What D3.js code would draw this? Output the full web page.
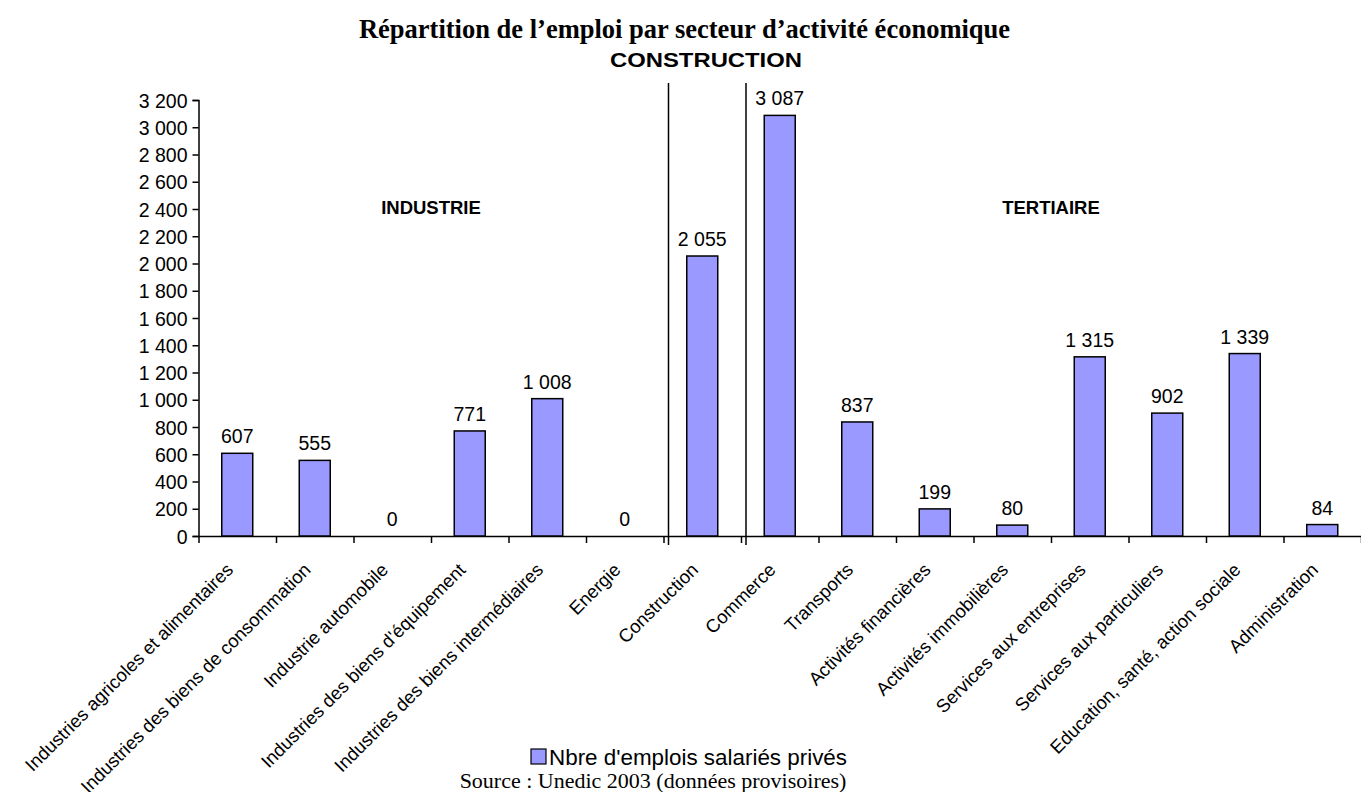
<!DOCTYPE html>
<html>
<head>
<meta charset="utf-8">
<script src="https://cdn.jsdelivr.net/npm/d3@7"></script>
<style>
	body { margin: 0; background: #fff; }
	svg { display: block; }
	text { font-family: "Liberation Sans", Arial, sans-serif; fill: #000; }
	.serif { font-family: "Liberation Serif", "Times New Roman", serif; }
</style>
</head>
<body>
<svg id="chart"></svg>
<script>

// categories and values
var categories = [
	"Industries agricoles et alimentaires",
	"Industries des biens de consommation",
	"Industrie automobile",
	"Industries des biens d'équipement",
	"Industries des biens intermédiaires",
	"Energie",
	"Construction",
	"Commerce",
	"Transports",
	"Activités financières",
	"Activités immobilières",
	"Services aux entreprises",
	"Services aux particuliers",
	"Education, santé, action sociale",
	"Administration"
];
var values = [607, 555, 0, 771, 1008, 0, 2055, 3087, 837, 199, 80, 1315, 902, 1339, 84];
var yTicks = [0, 200, 400, 600, 800, 1000, 1200, 1400, 1600, 1800, 2000, 2200, 2400, 2600, 2800, 3000, 3200];

// sector groups: label, first and last category
var sectorNames = ["INDUSTRIE", "TERTIAIRE"];
var sectorFirst = ["Industries agricoles et alimentaires", "Commerce"];
var sectorLast = ["Energie", "Administration"];
var separators = ["Construction", "Commerce"];

var seriesName = "Nbre d'emplois salariés privés";
var title = "Répartition de l’emploi par secteur d’activité économique";
var subtitle = "CONSTRUCTION";
var source = "Source : Unedic 2003 (données provisoires)";

var width = 1361,
	height = 792;

var svg = d3.select("#chart")
	.attr("width", width)
	.attr("height", height);

var x = d3.scaleBand()
	.domain(categories)
	.range([198.5, 1361]);

var edges = d3.scaleLinear()
	.domain([0, categories.length])
	.range(x.range());

var y = d3.scaleLinear()
	.domain([0, 3200])
	.range([536, 100]);

var fr = d3.formatLocale({ decimal: ",", thousands: " ", grouping: [3], currency: ["", " €"] });
var fmt = fr.format(",d");

// y axis
var yAxis = svg.append("g")
	.attr("transform", "translate(198.5,0)")
	.call(d3.axisLeft(y).tickValues(yTicks).tickSize(6).tickPadding(5).tickFormat(fmt));
yAxis.selectAll("text").style("font-size", "19.5px").attr("dy", "0.36em");
yAxis.selectAll("line, path").attr("stroke", "#000").attr("stroke-width", 1.5);

// x axis, ticks on the band edges
var xAxis = svg.append("g")
	.attr("transform", "translate(0," + y(0) + ")")
	.call(d3.axisBottom(edges).tickValues(d3.range(0, categories.length + 1)).tickSizeInner(7).tickSizeOuter(0).tickFormat(""));
xAxis.selectAll("line, path").attr("stroke", "#000").attr("stroke-width", 1.5);

// separators between sectors
svg.append("g")
	.selectAll("line")
	.data(separators)
	.join("line")
	.attr("x1", d => x(d) + 5)
	.attr("x2", d => x(d) + 5)
	.attr("y1", 83)
	.attr("y2", y(0) + 9)
	.attr("stroke", "#000")
	.attr("stroke-width", 1.5);

var bw = 31;

// bars
svg.append("g")
	.selectAll("rect")
	.data(values)
	.join("rect")
	.attr("x", (d, i) => x(categories[i]) + x.bandwidth() / 2 - bw / 2)
	.attr("y", d => y(d))
	.attr("width", bw)
	.attr("height", d => y(0) - y(d))
	.attr("fill", "#9999ff")
	.attr("stroke", "#000")
	.attr("stroke-width", 1.5);

// value labels
svg.append("g")
	.selectAll("text")
	.data(values)
	.join("text")
	.attr("x", (d, i) => x(categories[i]) + x.bandwidth() / 2)
	.attr("y", d => y(d) - 10)
	.attr("text-anchor", "middle")
	.style("font-size", "19.5px")
	.text(d => fmt(d));

// category labels
svg.append("g")
	.selectAll("text")
	.data(categories)
	.join("text")
	.attr("transform", d => "translate(" + (x(d) + x.bandwidth() / 2 - 3) + "," + (y(0) + 35) + ") rotate(-45)")
	.attr("text-anchor", "end")
	.style("font-size", "18.5px")
	.text(d => d);

// sector labels
svg.append("g")
	.selectAll("text")
	.data(sectorNames)
	.join("text")
	.attr("x", (d, i) => (x(sectorFirst[i]) + x(sectorLast[i]) + x.bandwidth()) / 2)
	.attr("y", y(2360))
	.attr("text-anchor", "middle")
	.style("font-size", "18.5px")
	.style("font-weight", "bold")
	.text(d => d);

// titles
svg.append("text")
	.attr("class", "serif")
	.attr("x", 684.5)
	.attr("y", 38)
	.attr("text-anchor", "middle")
	.style("font-size", "26.5px")
	.style("font-weight", "bold")
	.text(title);

svg.append("text")
	.attr("x", 706)
	.attr("y", 67)
	.attr("text-anchor", "middle")
	.attr("textLength", 192)
	.attr("lengthAdjust", "spacingAndGlyphs")
	.style("font-size", "21px")
	.style("font-weight", "bold")
	.text(subtitle);

// legend
var legend = svg.append("g")
	.attr("transform", "translate(549,757)");
legend.append("text")
	.attr("dy", "0.36em")
	.attr("textLength", 298)
	.attr("lengthAdjust", "spacingAndGlyphs")
	.style("font-size", "21.5px")
	.text(seriesName);
legend.append("rect")
	.attr("x", -18)
	.attr("y", -8)
	.attr("width", 15)
	.attr("height", 15)
	.attr("fill", "#9999ff")
	.attr("stroke", "#000")
	.attr("stroke-width", 1.2);

svg.append("text")
	.attr("class", "serif")
	.attr("x", 653)
	.attr("y", 788)
	.attr("text-anchor", "middle")
	.style("font-size", "22px")
	.text(source);

</script>
</body>
</html>
